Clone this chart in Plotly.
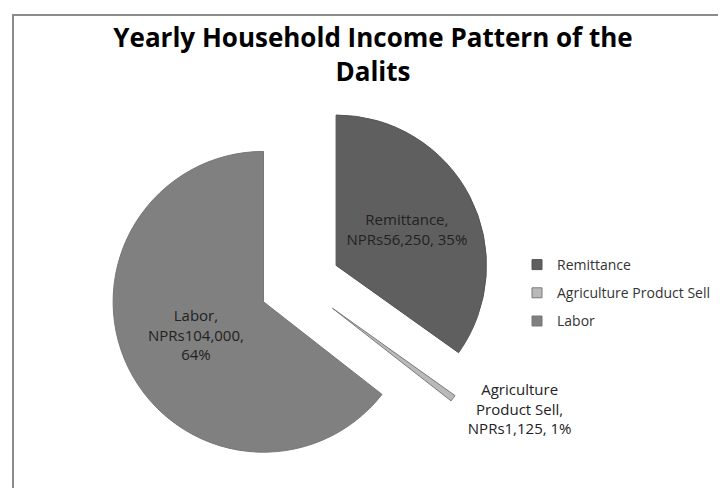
import plotly.graph_objects as go

# income sources (NPRs per year)
categories = ["Remittance", "Agriculture Product Sell", "Labor"]
wrapped_labels = ["Remittance,", "Agriculture<br>Product Sell,", "Labor,"]
values = [56250, 1125, 104000]
slice_colors = ["#5f5f5f", "#b9b9b9", "#808080"]
edge_colors = ["#555555", "#7a7a7a", "#777777"]

W, H = 726, 488

# pie box: centre and half-size in pixels (radius 150, pull 0.27)
cx, cy, half = 292, 276, 191

fig = go.Figure()

fig.add_trace(go.Pie(
    labels=categories,
    values=values,
    customdata=wrapped_labels,
    sort=False,
    direction="clockwise",
    rotation=0,
    pull=[0.27, 0.27, 0.27],
    marker=dict(colors=slice_colors, line=dict(color=edge_colors, width=1)),
    texttemplate=[
        "%{customdata}<br>NPRs%{value:,}, %{percent:.0%}",
        "%{customdata}<br>NPRs%{value:,}, %{percent:.0%}",
        "%{customdata}<br>NPRs%{value:,},<br>%{percent:.0%}",
    ],
    textposition=["inside", "outside", "inside"],
    insidetextorientation="horizontal",
    textfont=dict(family="Open Sans", size=15, color="#222222"),
    hoverinfo="label+value+percent",
    domain=dict(x=[(cx - half) / W, (cx + half) / W],
                y=[1 - (cy + half) / H, 1 - (cy - half) / H]),
    showlegend=False,
))

# legend entries as separate groups so the rows get Excel-like spacing
for name, col, edge in zip(categories, slice_colors, edge_colors):
    fig.add_trace(go.Scatter(
        x=[None], y=[None], mode="markers", name=name, legendgroup=name,
        marker=dict(symbol="square", size=10, color=col, line=dict(color=edge, width=1)),
    ))

fig.update_xaxes(visible=False)
fig.update_yaxes(visible=False)

fig.update_layout(
    width=W,
    height=H,
    margin=dict(l=0, r=0, t=0, b=0, autoexpand=False),
    paper_bgcolor="white",
    plot_bgcolor="white",
    title=dict(
        text="<b>Yearly Household Income Pattern of the<br>Dalits</b>",
        font=dict(family="Open Sans", size=26, color="#000000"),
        x=365 / W, xanchor="center",
        y=1 - 39 / H, yanchor="top", yref="container",
    ),
    legend=dict(
        x=509 / W, xanchor="left",
        y=1 - 285 / H, yanchor="middle",
        font=dict(family="Open Sans", size=14, color="#333333"),
        tracegroupgap=7,
        bgcolor="rgba(0,0,0,0)",
    ),
    shapes=[dict(
        type="rect", xref="paper", yref="paper",
        x0=5 / W, x1=1.05, y0=-0.05, y1=1 - 7 / H,
        line=dict(color="#8c8c8c", width=2),
    )],
)

fig.write_html("out.html")
